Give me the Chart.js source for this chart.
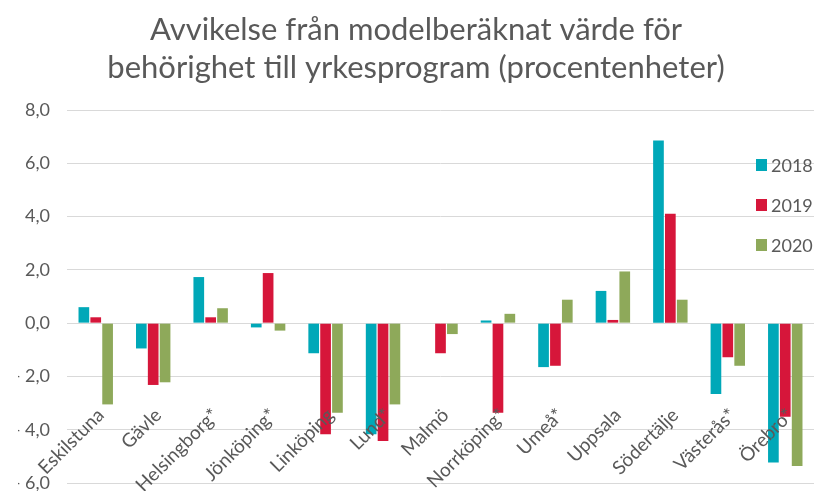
<!DOCTYPE html>
<html>
<head>
<meta charset="utf-8">
<script src="https://cdn.jsdelivr.net/npm/chart.js@4"></script>
<style>
  body { margin: 0; background: #fff; }
  #wrap { width: 814px; height: 491px; position: relative; }
</style>
</head>
<body>
<div id="wrap"><canvas id="myChart"></canvas></div>
<script>
// Data
const kommuner = ['Eskilstuna', 'Gävle', 'Helsingborg*', 'Jönköping*', 'Linköping', 'Lund*', 'Malmö',
    'Norrköping*', 'Umeå*', 'Uppsala', 'Södertälje', 'Västerås*', 'Örebro*'];
const years = ['2018', '2019', '2020'];
const v2018 = [0.6, -0.95, 1.73, -0.16, -1.13, -4.17, 0, 0.1, -1.65, 1.21, 6.86, -2.66, -5.23];
const v2019 = [0.22, -2.32, 0.22, 1.88, -4.17, -4.42, -1.13, -3.36, -1.6, 0.12, 4.11, -1.28, -3.51];
const v2020 = [-3.05, -2.22, 0.56, -0.28, -3.36, -3.05, -0.41, 0.35, 0.88, 1.94, 0.88, -1.6, -5.36];
const titleLines = ['Avvikelse från modelberäknat värde för', 'behörighet till yrkesprogram (procentenheter)'];

const colors = ['#00A8B8', '#D6163A', '#8EA95A'];
const textColor = '#595959';

// formatera som i Excel: "- 2,0"
function fmt(v) {
    let s = Math.abs(v).toFixed(1).replace('.', ',');
    return v < 0 ? '- ' + s : s;
}

// Etiketter för kategorier, ritade snett inne i diagrammet
const catLabels = {
    id: 'catLabels',
    afterDatasetsDraw(chart) {
        const ctx = chart.ctx;
        const xs = chart.scales.x;
        ctx.save();
        ctx.font = '19px Lato';
        ctx.fillStyle = textColor;
        ctx.textAlign = 'right';
        ctx.textBaseline = 'middle';
        kommuner.forEach(function (name, i) {
            const x = xs.getPixelForValue(i);
            ctx.save();
            ctx.translate(x + 5, 412);
            ctx.rotate(-Math.PI / 4);
            ctx.fillText(name, 0, 0);
            ctx.restore();
        });
        ctx.restore();
    }
};

// Legend till höger
const sideLegend = {
    id: 'sideLegend',
    afterDraw(chart) {
        const ctx = chart.ctx;
        ctx.save();
        ctx.font = '18px Lato';
        ctx.textBaseline = 'middle';
        ctx.textAlign = 'left';
        years.forEach(function (y, i) {
            const cy = 165 + i * 40;
            ctx.fillStyle = colors[i];
            ctx.fillRect(756, cy - 6, 11, 12);
            ctx.fillStyle = textColor;
            ctx.fillText(y, 771, cy + 1);
        });
        ctx.restore();
    }
};

const ctx = document.getElementById('myChart').getContext('2d');
const chart = new Chart(ctx, {
    type: 'bar',
    data: {
        labels: kommuner,
        datasets: [v2018, v2019, v2020].map(function (d, i) {
            return {
                label: years[i],
                data: d,
                backgroundColor: colors[i],
                borderWidth: 0,
                categoryPercentage: 0.62,
                barPercentage: 0.9
            };
        })
    },
    options: {
        responsive: true,
        maintainAspectRatio: false,
        animation: false,
        layout: { padding: { left: 18, right: 0, top: 0, bottom: 8 } },
        plugins: {
            legend: { display: false },
            tooltip: { enabled: false },
            title: {
                display: true,
                text: titleLines,
                color: textColor,
                font: { family: 'Lato', size: 31, weight: 'normal', lineHeight: 1.226 },
                padding: { top: 11, bottom: 23 }
            }
        },
        scales: {
            x: {
                display: false
            },
            y: {
                min: -6,
                max: 8,
                afterFit: function (s) { s.width = 49; },
                ticks: {
                    stepSize: 2,
                    padding: 0,
                    color: textColor,
                    font: { family: 'Lato', size: 18, lineHeight: 0.6 },
                    callback: function (v) { return fmt(v); }
                },
                grid: { color: '#D9D9D9', lineWidth: 1, drawTicks: true, tickLength: 17, tickColor: 'rgba(0,0,0,0)' },
                border: { display: false }
            }
        }
    },
    plugins: [catLabels, sideLegend]
});
</script>
</body>
</html>
